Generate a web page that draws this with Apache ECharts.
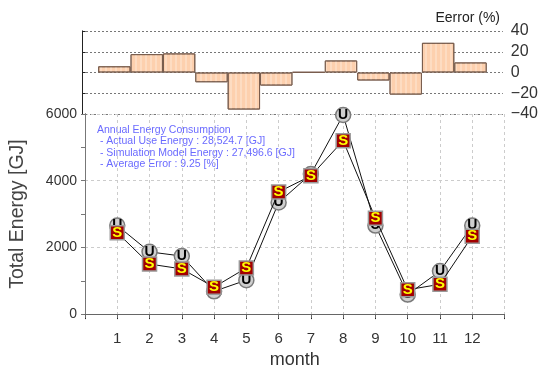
<!DOCTYPE html>
<html lang='en'>
<head>
  <meta charset='UTF-8'>
  <title>Total Energy</title>
  <script src="https://cdn.jsdelivr.net/npm/echarts@6/dist/echarts.min.js"></script>
  <style>
    html, body { margin: 0; padding: 0; background: #fff; }
  </style>
</head>
<body>
<div id="main" style="width: 541px; height: 374px;"></div>
<script>
  const months = [1, 2, 3, 4, 5, 6, 7, 8, 9, 10, 11, 12]
  const actualUse = [2654, 1866, 1740, 683, 1018, 3346, 4200, 5970, 2654, 586, 1289, 2654]
  const simulation = [2443, 1500, 1356, 808, 1385, 3663, 4145, 5200, 2875, 730, 894, 2336]
  const errorPct = [6, 17.7, 18.4, -9.4, -35.7, -12.6, 0.3, 11.6, -7.7, -21.3, 28.6, 9.7]
  const errorTicks = [-40, -20, 0, 20, 40]
  const noteLines = [
    'Annual Energy Consumption',
    ' - Actual Use Energy : 28,524.7 [GJ]',
    ' - Simulation Model Energy : 27,496.6 [GJ]',
    ' - Average Error : 9.25 [%]'
  ]

  const pair = (vals) => months.map((m, i) => [m, vals[i]])
  const font = 'Liberation Sans'

  var myChart = echarts.init(document.getElementById('main'))
  var option = {
    animation: false,
    textStyle: { fontFamily: font },
    grid: [
      { left: 82, right: 36.5, top: 31, height: 83 },
      { left: 82, right: 36.5, top: 114, height: 208 }
    ],
    xAxis: [
      { gridIndex: 0, type: 'value', min: 0, max: 13, show: false },
      {
        gridIndex: 1, type: 'value', min: 0, max: 13, interval: 1,
        name: 'month', nameLocation: 'middle', nameGap: 36,
        nameTextStyle: { fontSize: 18, color: '#333', fontFamily: font },
        axisLine: { lineStyle: { color: '#222', width: 1 } },
        axisTick: { length: 5, lineStyle: { color: '#222' } },
        axisLabel: {
          fontSize: 15, color: '#333', margin: 17,
          formatter: v => (v >= 1 && v <= 12 ? String(v) : '')
        },
        splitLine: { show: true, lineStyle: { color: '#ccc', type: [3, 3] } }
      },
      {
        gridIndex: 1, type: 'value', min: 0, max: 13, interval: 1, position: 'top', z: 3,
        axisLine: { lineStyle: { color: '#666', width: 1 } },
        axisTick: { inside: true, length: 4, lineStyle: { color: '#666' } },
        axisLabel: { show: false },
        splitLine: { show: false }
      }
    ],
    yAxis: [
      {
        gridIndex: 0, type: 'value', position: 'right', min: -40, max: 40, interval: 20,
        axisLine: { show: true, lineStyle: { color: '#777' } },
        axisTick: { show: true, length: 5, lineStyle: { color: '#777' } },
        axisLabel: {
          fontSize: 16, color: '#333', margin: 8,
          formatter: v => (errorTicks.includes(v) ? String(v).replace('-', '\u2212') : '')
        },
        splitLine: { show: true, lineStyle: { color: '#777', type: [2, 2] } }
      },
      {
        gridIndex: 0, type: 'value', position: 'left', min: -40, max: 40, interval: 20,
        axisLine: { show: true, lineStyle: { color: '#222' } },
        axisTick: { show: true, inside: true, length: 3, lineStyle: { color: '#222' } },
        axisLabel: { show: false },
        splitLine: { show: false }
      },
      {
        gridIndex: 1, type: 'value', position: 'left', min: 0, max: 6000, interval: 2000,
        name: 'Total Energy [GJ]', nameLocation: 'middle', nameGap: 57,
        nameTextStyle: { fontSize: 19.5, color: '#444', fontFamily: font },
        axisLine: { show: true, lineStyle: { color: '#222' } },
        axisTick: { show: true, length: 4, lineStyle: { color: '#222' } },
        minorTick: { show: true, splitNumber: 2, length: 4, lineStyle: { color: '#222' } },
        axisLabel: { fontSize: 14, color: '#333', margin: 8, formatter: v => String(v) },
        splitLine: { show: true, lineStyle: { color: '#ccc', type: [3, 3] } }
      },
      {
        gridIndex: 1, type: 'value', position: 'right', min: 0, max: 6000, interval: 2000,
        axisLine: { show: true, lineStyle: { color: '#777' } },
        axisTick: { show: true, inside: true, length: 4, lineStyle: { color: '#777' } },
        minorTick: { show: true, splitNumber: 2, length: 4, lineStyle: { color: '#777' } },
        axisLabel: { show: false },
        splitLine: { show: false }
      }
    ],
    series: [
      {
        name: 'Error',
        type: 'bar',
        xAxisIndex: 0,
        yAxisIndex: 0,
        barWidth: '100%',
        data: pair(errorPct),
        itemStyle: {
          color: '#fdd0ae',
          borderColor: '#7a5e4e',
          borderWidth: 1,
          decal: {
            symbol: 'rect',
            symbolSize: 1,
            color: 'rgba(255,255,255,0.25)',
            dashArrayX: [2, 3],
            dashArrayY: [10, 0]
          }
        }
      },
      {
        name: 'Actual Use',
        type: 'line',
        xAxisIndex: 1,
        yAxisIndex: 2,
        data: pair(actualUse),
        symbol: 'circle',
        symbolSize: 15,
        lineStyle: { color: '#111', width: 1 },
        itemStyle: { color: '#cfcfcf', borderColor: '#7a7a7a', borderWidth: 1.5 },
        label: {
          show: true, position: 'inside', formatter: 'U',
          color: '#000', fontWeight: 'bold', fontSize: 14, fontFamily: font
        },
        z: 3
      },
      {
        name: 'Simulation',
        type: 'line',
        xAxisIndex: 1,
        yAxisIndex: 2,
        data: pair(simulation),
        symbol: 'rect',
        symbolSize: 14,
        lineStyle: { color: '#111', width: 1 },
        itemStyle: { color: '#a30000', borderColor: '#9a9a9a', borderWidth: 1.5 },
        label: {
          show: true, position: 'inside', formatter: 'S',
          color: '#ffff00', fontWeight: 'bold', fontSize: 15, fontFamily: font
        },
        z: 4
      }
    ],
    graphic: [
      {
        type: 'text', right: 41, top: 11,
        style: { text: 'Eerror (%)', fontSize: 14, fill: '#222', fontFamily: font }
      },
      {
        type: 'text', left: 97, top: 124,
        style: {
          text: noteLines.join('\n'), fontSize: 10.5, lineHeight: 11.5,
          fill: '#6a6aff', fontFamily: font
        }
      }
    ]
  }
  myChart.setOption(option)
</script>
</body>
</html>
